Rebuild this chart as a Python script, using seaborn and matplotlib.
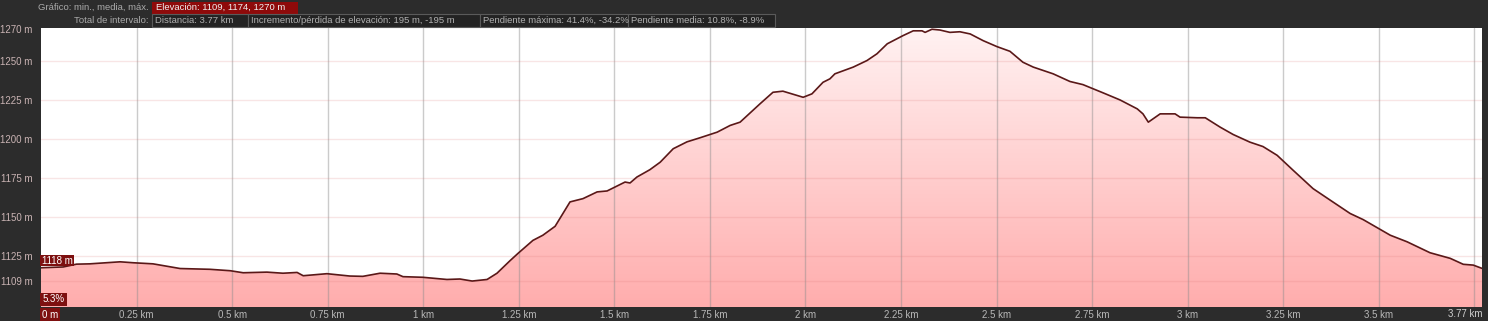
import numpy as np
import pandas as pd
import matplotlib
matplotlib.use("Agg")
import matplotlib.pyplot as plt
from matplotlib.patches import Rectangle
import seaborn as sns

# ---- data ----
dist_km = [0.00, 0.058, 0.093, 0.128, 0.207, 0.241, 0.293, 0.364, 0.442, 0.495,
           0.529, 0.591, 0.633, 0.670, 0.686, 0.748, 0.808, 0.842, 0.887, 0.931,
           0.947, 0.999, 1.062, 1.096, 1.128, 1.167, 1.193, 1.227, 1.248, 1.287,
           1.313, 1.345, 1.384, 1.418, 1.455, 1.481, 1.528, 1.541, 1.559, 1.593,
           1.620, 1.654, 1.690, 1.724, 1.769, 1.803, 1.829, 1.881, 1.915, 1.941,
           1.994, 2.017, 2.046, 2.064, 2.077, 2.125, 2.161, 2.187, 2.214, 2.255,
           2.282, 2.305, 2.313, 2.331, 2.352, 2.378, 2.404, 2.431, 2.465, 2.501,
           2.535, 2.569, 2.596, 2.648, 2.692, 2.726, 2.779, 2.823, 2.868, 2.883,
           2.897, 2.928, 2.967, 2.980, 3.025, 3.046, 3.085, 3.119, 3.163, 3.197,
           3.234, 3.276, 3.328, 3.373, 3.425, 3.459, 3.530, 3.574, 3.634, 3.687,
           3.721, 3.747, 3.770]
elev_m = [1117.5, 1118.0, 1119.8, 1120.0, 1121.3, 1120.7, 1120.0, 1117.0, 1116.5, 1115.6,
          1114.3, 1114.7, 1114.0, 1114.5, 1112.4, 1113.7, 1112.2, 1112.0, 1114.0, 1113.5,
          1111.8, 1111.4, 1110.0, 1110.3, 1109.0, 1110.0, 1114.0, 1122.0, 1126.7, 1135.0,
          1138.3, 1144.0, 1159.6, 1161.7, 1166.0, 1166.6, 1172.3, 1171.7, 1175.5, 1180.2,
          1185.0, 1193.6, 1198.0, 1200.6, 1204.2, 1208.5, 1210.6, 1222.3, 1229.7, 1230.4,
          1226.5, 1228.7, 1236.1, 1238.3, 1241.5, 1245.8, 1250.0, 1254.3, 1260.7, 1265.9,
          1269.0, 1269.0, 1268.0, 1270.0, 1269.5, 1268.0, 1268.4, 1267.0, 1262.7, 1258.9,
          1255.9, 1248.9, 1245.8, 1241.5, 1236.6, 1234.6, 1229.3, 1224.8, 1219.1, 1215.9,
          1210.6, 1215.9, 1215.9, 1213.8, 1213.4, 1213.4, 1207.4, 1202.7, 1197.8, 1195.0,
          1189.4, 1179.8, 1168.1, 1160.7, 1152.2, 1148.3, 1138.3, 1134.1, 1127.1, 1123.5,
          1119.7, 1119.2, 1117.1]

y_ticks = [1109, 1125, 1150, 1175, 1200, 1225, 1250, 1270]
y_labels = ["1109 m", "1125 m", "1150 m", "1175 m", "1200 m", "1225 m", "1250 m", "1270 m"]
x_ticks = [0.25, 0.5, 0.75, 1.0, 1.25, 1.5, 1.75, 2.0, 2.25, 2.5, 2.75, 3.0, 3.25, 3.5]
x_labels = ["0.25 km", "0.5 km", "0.75 km", "1 km", "1.25 km", "1.5 km", "1.75 km",
            "2 km", "2.25 km", "2.5 km", "2.75 km", "3 km", "3.25 km", "3.5 km"]
x_grid = x_ticks + [3.75]

header1_label = "Gráfico: min., media, máx."
header1_value = "Elevación: 1109, 1174, 1270 m"
header2_label = "Total de intervalo:"
header2_values = ["Distancia: 3.77 km",
                  "Incremento/pérdida de elevación: 195 m, -195 m",
                  "Pendiente máxima: 41.4%, -34.2%",
                  "Pendiente media: 10.8%, -8.9%"]
start_label = "1118 m"
slope_label = "5.3%"
x_start_label = "0 m"
x_end_label = "3.77 km"

df = pd.DataFrame({"km": dist_km, "elev": elev_m})

# ---- style ----
sns.set_style("white")
plt.rcParams["font.family"] = ["Liberation Sans", "DejaVu Sans"]

W, H = 1488, 321
BG = "#2c2c2c"
DARKRED = "#7d1010"
fig = plt.figure(figsize=(W / 100, H / 100), dpi=100, facecolor=BG)

def px_rect(x0, y0, x1, y1, **kw):
    r = Rectangle((x0 / W, 1 - y1 / H), (x1 - x0) / W, (y1 - y0) / H,
                  transform=fig.transFigure, **kw)
    fig.add_artist(r)
    return r

ax = fig.add_axes([41 / W, 1 - 307 / H, (1482 - 41) / W, (307 - 28) / H])
ax.set_facecolor("white")
YMIN, YMAX = 1092.4, 1270.8
ax.set_xlim(0, 3.77)
ax.set_ylim(YMIN, YMAX)

# gradient fill under the profile
poly = ax.fill_between(df["km"], df["elev"], YMIN, color="none", lw=0)
grad = np.linspace(0, 1, 256).reshape(-1, 1)
from matplotlib.colors import LinearSegmentedColormap
cmap = LinearSegmentedColormap.from_list("pinkgrad", ["#ffadad", "#fff2f2"])
im = ax.imshow(grad, aspect="auto", cmap=cmap, origin="lower",
               extent=[0, 3.77, YMIN, YMAX], zorder=1)
path = poly.get_paths()[0]
im.set_clip_path(path, transform=ax.transData)

# grid lines above fill
for xg in x_grid:
    ax.axvline(xg, color=(0.55, 0.55, 0.55, 0.45), lw=1.0, zorder=2)
for yg in y_ticks[:-1]:
    ax.axhline(yg, color=(0.85, 0.45, 0.45, 0.18), lw=1.0, zorder=2)

sns.lineplot(data=df, x="km", y="elev", ax=ax, color="#5a1818", lw=1.2, zorder=3)
ax.set_xlabel("")
ax.set_ylabel("")

for s in ax.spines.values():
    s.set_visible(False)
ax.set_xticks(x_ticks)
ax.set_xticklabels(x_labels)
ax.set_yticks(y_ticks)
ax.set_yticklabels(y_labels)
ax.tick_params(axis="x", length=0, pad=2.5, labelsize=7, labelcolor="#b8b8b8")
ax.tick_params(axis="y", length=0, pad=6, labelsize=7, labelcolor="#c9b3b3")

# x-end labels
fig.text(1482 / W, 1 - 314 / H, x_end_label, ha="right", va="center",
         fontsize=7, color="#d0d0d0")
px_rect(40, 308, 60, 321, facecolor=DARKRED, edgecolor="none")
fig.text(42 / W, 1 - 315 / H, x_start_label, ha="left", va="center", fontsize=7, color="white")

# in-plot badges
px_rect(40, 255, 74, 266, facecolor=DARKRED, edgecolor="none", zorder=5)
fig.text(42 / W, 1 - 260.5 / H, start_label, ha="left", va="center", fontsize=7,
         color="white", zorder=6)
px_rect(40, 293, 67, 306, facecolor=DARKRED, edgecolor="none", zorder=5)
fig.text(43 / W, 1 - 299.5 / H, slope_label, ha="left", va="center", fontsize=7,
         color="white", zorder=6)

# header
fig.text(149 / W, 1 - 7.5 / H, header1_label, ha="right", va="center", fontsize=6.8, color="#aaaaaa")
px_rect(152, 2, 298, 13.5, facecolor="#8e0a0a", edgecolor="none")
fig.text(156 / W, 1 - 7.5 / H, header1_value, ha="left", va="center", fontsize=6.8, color="#f0f0f0")

fig.text(149 / W, 1 - 20.5 / H, header2_label, ha="right", va="center", fontsize=6.8, color="#aaaaaa")
bounds = [(152, 248), (248, 480), (480, 628), (628, 775)]
for (x0, x1), txt in zip(bounds, header2_values):
    px_rect(x0, 14, x1, 27, facecolor="#232323", edgecolor="#5a5a5a", lw=0.8)
    fig.text((x0 + 3) / W, 1 - 20.5 / H, txt, ha="left", va="center", fontsize=6.8, color="#b0b0b0")

fig.savefig("out.png", dpi=100, facecolor=BG)
